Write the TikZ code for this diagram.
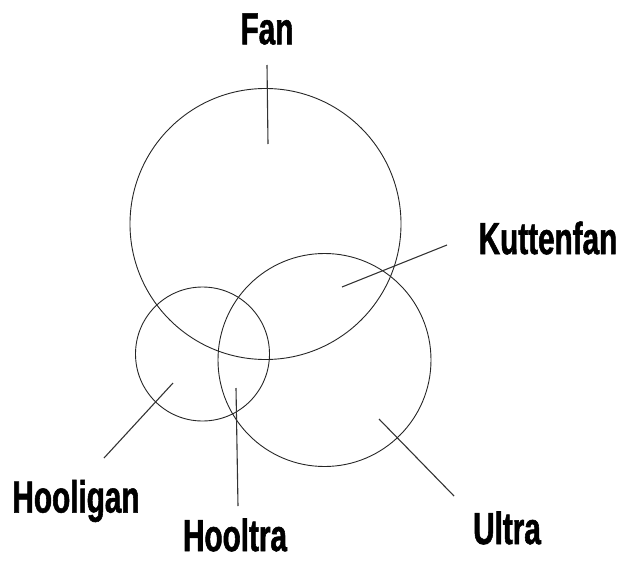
\documentclass[tikz,border=0pt]{standalone}
\usepackage{fontspec}
\setmainfont[FakeStretch=0.66, BoldFeatures={FakeBold=1.2}]{Liberation Sans}
\usepackage{tikz}
\usetikzlibrary{positioning}
\tikzset{
  set/.style   = {circle, draw=black!85, line width=0.9pt, inner sep=0pt},
  lbl/.style   = {font=\fontsize{45}{45}\selectfont\bfseries, inner sep=0pt, text=black},
  pointer/.style = {draw=black!80, line width=1.1pt},
}

\begin{document}
\begin{tikzpicture}[x=1pt, y=-1pt]
  \useasboundingbox (0,0) rectangle (626,562);
  % the three sets
  \node[set, minimum size=271pt] (fan) at (265.5,224) {};
  \node[set, minimum size=134pt] (hool) at (202.5,354) {};
  \node[set, minimum size=213pt] (ultra) at (324.5,360) {};
  % labels
  \node[lbl] (lfan) at (267,29) {Fan};
  \node[lbl] (lkutte) at (548,238) {Kuttenfan};
  \node[lbl] (lhool) at (76,501) {Hooligan};
  \node[lbl] (lhooltra) at (235,535) {Hooltra};
  \node[lbl] (lultra) at (507,528) {Ultra};
  % pointer ends
  \coordinate (pfan0) at (267,65);
  \coordinate (pfan1) at (268,144);
  \coordinate (pkut0) at (447,245);
  \coordinate (pkut1) at (342,287);
  \coordinate (phool0) at (104,458);
  \coordinate (phool1) at (173,383);
  \coordinate (phtr0) at (238,506);
  \coordinate (phtr1) at (236,388);
  \coordinate (pult0) at (454,496);
  \coordinate (pult1) at (379,419);
  % pointers
  \draw[pointer] (pfan0) -- (pfan1);
  \draw[pointer] (pkut0) -- (pkut1);
  \draw[pointer] (phool0) -- (phool1);
  \draw[pointer] (phtr0) -- (phtr1);
  \draw[pointer] (pult0) -- (pult1);
\end{tikzpicture}
\end{document}
